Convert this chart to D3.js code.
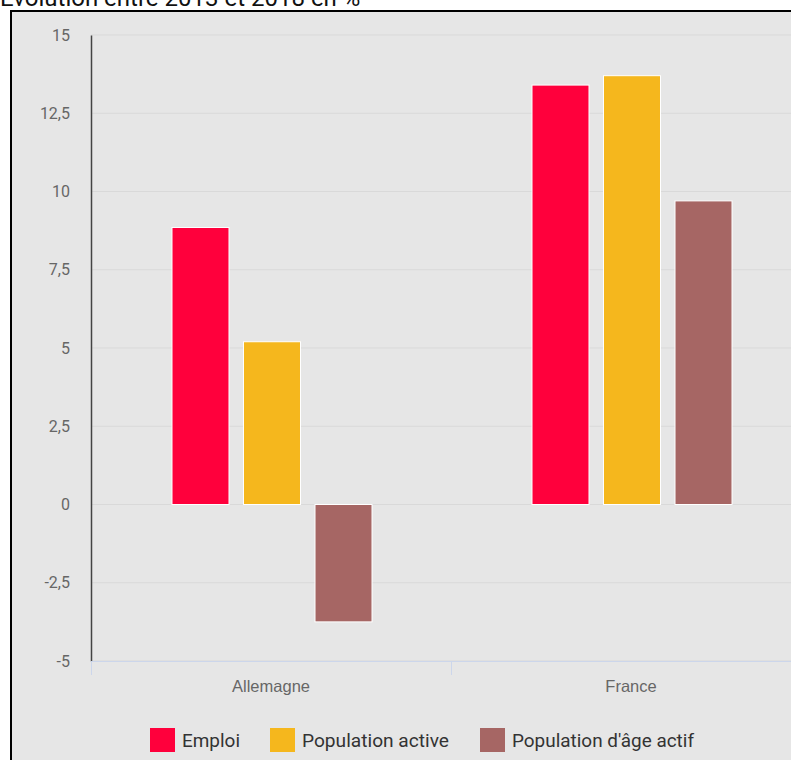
<!DOCTYPE html>
<html>
<head>
<meta charset="utf-8">
<script src="https://cdn.jsdelivr.net/npm/d3@7"></script>
<style>
  body { margin: 0; background: #fff; overflow: hidden; }
  svg { display: block; font-family: Roboto, "Noto Sans", sans-serif; }
</style>
</head>
<body>
<svg id="chart" width="791" height="760"></svg>
<script>
// data
var categories = ["Allemagne", "France"];
var seriesNames = ["Emploi", "Population active", "Population d'âge actif"];
var seriesColors = ["#ff003c", "#f5b71d", "#a66664"];
var emploi = [8.85, 13.4];
var populationActive = [5.2, 13.7];
var populationAgeActif = [-3.75, 9.7];
var yTicks = [-5, -2.5, 0, 2.5, 5, 7.5, 10, 12.5, 15];

var seriesValues = [emploi, populationActive, populationAgeActif];

var svg = d3.select("#chart");
var margin = {left: 91, top: 35, bottom: 99};
var width = 791, height = 760;

// title, cut off by the frame at the top
svg.append("text")
    .attr("x", 0)
    .attr("y", 6)
    .attr("font-size", 24)
    .attr("fill", "#111")
    .text("Evolution entre 2013 et 2018 en %");

// framed panel
svg.append("rect")
    .attr("x", 11).attr("y", 11)
    .attr("width", width + 20).attr("height", height)
    .attr("fill", "#e6e6e6")
    .attr("stroke", "#000")
    .attr("stroke-width", 2);

var y = d3.scaleLinear().domain([-5, 15]).range([height - margin.bottom, margin.top]);
var x = d3.scaleBand().domain(categories).range([margin.left, margin.left + 720]);
var xs = d3.scaleBand().domain(d3.range(seriesNames.length))
    .range([81, 281]).paddingInner(0.203);

// gridlines
svg.append("g")
    .selectAll("line")
    .data(yTicks)
    .join("line")
    .attr("x1", margin.left).attr("x2", width)
    .attr("y1", d => y(d)).attr("y2", d => y(d))
    .attr("stroke", "#d9d9d9")
    .attr("stroke-width", 1);

// y axis
var fmt = d => String(d).replace(".", ",");
var yAxis = svg.append("g")
    .attr("transform", "translate(" + margin.left + ",0)")
    .call(d3.axisLeft(y).tickValues(yTicks).tickFormat(fmt).tickSize(0).tickPadding(21));
yAxis.select(".domain").attr("stroke", "#444").attr("stroke-width", 1.5);
yAxis.selectAll("text").attr("font-size", 16).attr("fill", "#666").attr("font-family", "Roboto");

// x axis
var xAxis = svg.append("g")
    .attr("transform", "translate(0," + y(-5) + ")")
    .call(d3.axisBottom(x).tickSize(0).tickPadding(19));
xAxis.select(".domain").attr("stroke", "#ccd6eb");
xAxis.selectAll("text").attr("font-size", 16.5).attr("fill", "#666");
xAxis.append("g")
    .selectAll("line")
    .data(categories)
    .join("line")
    .attr("x1", d => x(d) + 0.5).attr("x2", d => x(d) + 0.5)
    .attr("y1", 0).attr("y2", 14)
    .attr("stroke", "#ccd6eb");

// bars
var groups = svg.append("g")
    .selectAll("g")
    .data(seriesValues)
    .join("g")
    .attr("fill", (d, i) => seriesColors[i]);

groups.each(function (vals, si) {
    d3.select(this).selectAll("rect")
        .data(vals)
        .join("rect")
        .attr("x", (v, ci) => x(categories[ci]) + xs(si))
        .attr("width", xs.bandwidth())
        .attr("y", v => y(Math.max(0, v)))
        .attr("height", v => Math.abs(y(v) - y(0)))
        .attr("stroke", "#fff")
        .attr("stroke-width", 1);
});

// legend
var legendX = [150, 270, 480];
var legend = svg.append("g")
    .selectAll("g")
    .data(seriesNames)
    .join("g")
    .attr("transform", (d, i) => "translate(" + legendX[i] + ",728)");
legend.append("rect")
    .attr("width", 25).attr("height", 24)
    .attr("fill", (d, i) => seriesColors[i]);
legend.append("text")
    .attr("x", 32).attr("y", 19)
    .attr("font-size", 18)
    .attr("fill", "#333")
    .attr("textLength", (d, i) => [58, 147, 182][i])
    .attr("lengthAdjust", "spacingAndGlyphs")
    .text(d => d);
</script>
</body>
</html>
